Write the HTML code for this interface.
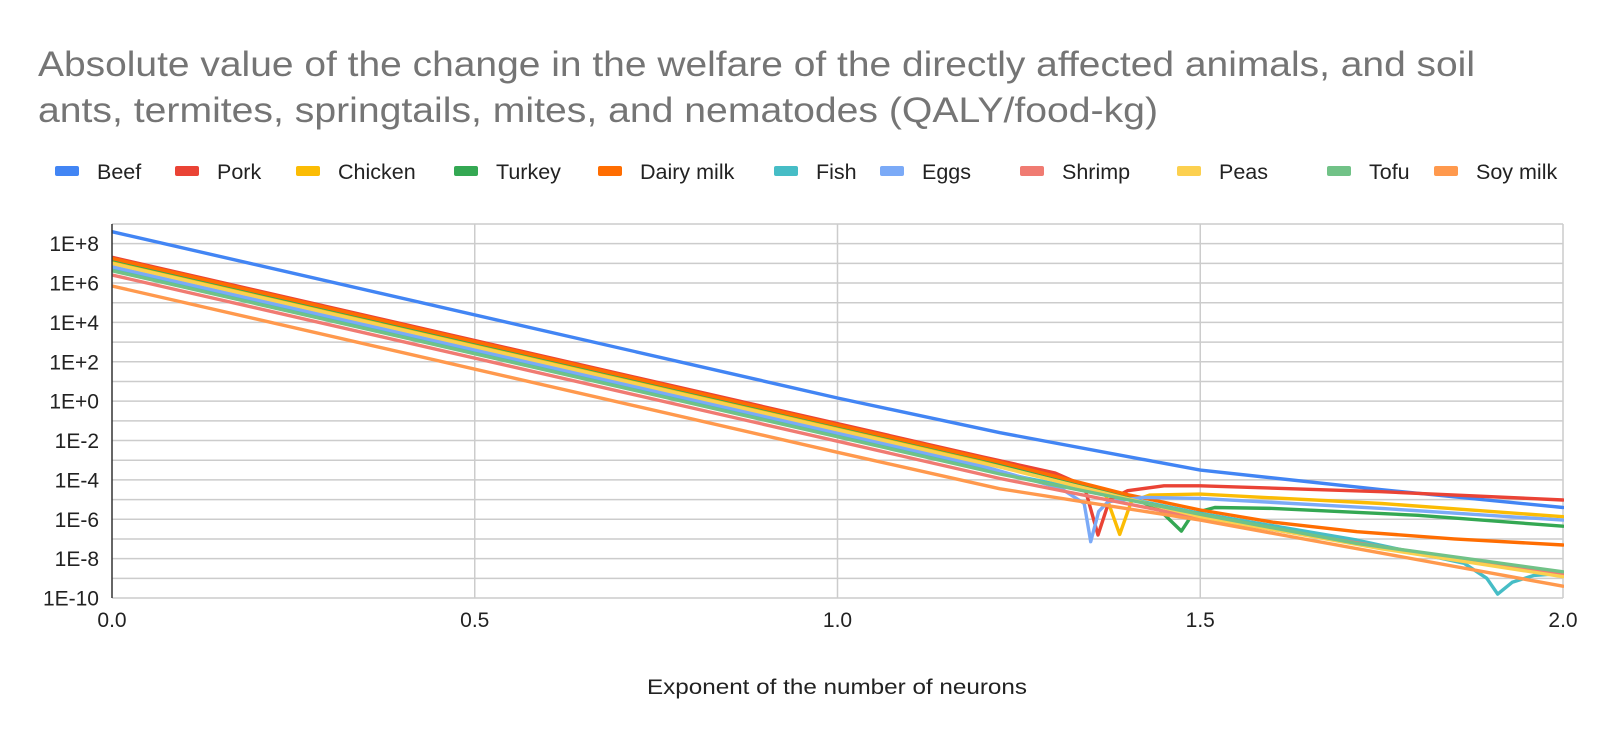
<!DOCTYPE html>
<html><head><meta charset="utf-8"><style>
html,body{margin:0;padding:0;background:#fff;}
svg{display:block;font-family:"Liberation Sans",Arial,sans-serif;}
</style></head><body>
<svg id="chart" width="1600" height="739" viewBox="0 0 1600 739">
<rect x="0" y="0" width="1600" height="739" fill="#fff"/>
<text x="38" y="76" font-size="35" fill="#757575" textLength="1437" lengthAdjust="spacingAndGlyphs">Absolute value of the change in the welfare of the directly affected animals, and soil</text>
<text x="38" y="122" font-size="35" fill="#757575" textLength="1120" lengthAdjust="spacingAndGlyphs">ants, termites, springtails, mites, and nematodes (QALY/food-kg)</text>
<g id="legend"></g>
<g id="grid"></g>
<g id="ylabels"></g>
<g id="xlabels"></g>
<defs><clipPath id="clip"><rect x="112" y="220" width="1452" height="380"/></clipPath></defs>
<g id="series" clip-path="url(#clip)"></g>
<line x1="112" y1="224" x2="112" y2="598" stroke="#333" stroke-width="1.5"/>
<text x="837" y="694" font-size="21" fill="#222" text-anchor="middle" textLength="380" lengthAdjust="spacingAndGlyphs">Exponent of the number of neurons</text>
</svg>
<script>
const seriesNames = ["Beef","Pork","Chicken","Turkey","Dairy milk","Fish","Eggs","Shrimp","Peas","Tofu","Soy milk"];
const seriesColors = ["#4285f4","#ea4335","#fbbc04","#34a853","#ff6d01","#46bdc6","#7baaf7","#f07b72","#fcd04f","#71c287","#ff994d"];
const legendX = [55,175,296,454,598,774,880,1020,1177,1327,1434];
// x values (exponent) and log10 of y values per series
const beefX = [0,1.0,1.224,1.5,1.75,2.0];
const beefLog = [8.61,0.16,-1.6,-3.5,-4.5,-5.4];
const porkX = [0,1.2,1.3,1.34,1.359,1.375,1.4,1.45,1.5,1.75,2.0];
const porkLog = [7.31,-2.83,-3.65,-4.3,-6.8,-5.0,-4.55,-4.3,-4.3,-4.6,-5.02];
const chickenX = [0,1.2,1.33,1.37,1.389,1.405,1.43,1.5,1.75,2.0];
const chickenLog = [7.08,-3.06,-4.2,-4.8,-6.77,-5.1,-4.77,-4.72,-5.2,-5.87];
const turkeyX = [0,1.2,1.4,1.444,1.474,1.49,1.52,1.6,1.8,2.0];
const turkeyLog = [7.2,-2.94,-4.8,-5.53,-6.6,-5.7,-5.4,-5.45,-5.8,-6.35];
const dairyX = [0,1.224,1.4,1.5,1.6,1.716,1.85,2.0];
const dairyLog = [7.25,-3.1,-4.75,-5.53,-6.15,-6.63,-7.0,-7.31];
const fishX = [0,1.224,1.5,1.716,1.864,1.895,1.91,1.93,1.96,2.0];
const fishLog = [6.7,-3.64,-5.7,-7.06,-8.24,-9.0,-9.8,-9.2,-8.85,-8.75];
const eggsX = [0,1.2,1.308,1.34,1.349,1.36,1.373,1.422,1.5,1.75,2.0];
const eggsLog = [6.83,-3.3,-4.43,-5.2,-7.14,-5.6,-5.11,-4.89,-4.94,-5.45,-6.04];
const shrimpX = [0,1.224,1.5,1.75,2.0];
const shrimpLog = [6.41,-3.93,-5.95,-7.4,-8.8];
const peasX = [0,1.224,1.5,1.75,2.0];
const peasLog = [7.0,-3.35,-5.87,-7.5,-8.92];
const tofuX = [0,1.224,1.5,1.716,2.0];
const tofuLog = [6.63,-3.7,-5.75,-7.23,-8.67];
const soyX = [0,1.0,1.224,1.5,2.0];
const soyLog = [5.85,-2.6,-4.45,-6.04,-9.4];
const allX = [beefX,porkX,chickenX,turkeyX,dairyX,fishX,eggsX,shrimpX,peasX,tofuX,soyX];
const allLog = [beefLog,porkLog,chickenLog,turkeyLog,dairyLog,fishLog,eggsLog,shrimpLog,peasLog,tofuLog,soyLog];
const yTickLabels = ["1E+8","1E+6","1E+4","1E+2","1E+0","1E-2","1E-4","1E-6","1E-8","1E-10"];
const yTickExp = [8,6,4,2,0,-2,-4,-6,-8,-10];
const xTicks = [0,0.5,1.0,1.5,2.0];
const xTickLabels = ["0.0","0.5","1.0","1.5","2.0"];

const NS="http://www.w3.org/2000/svg";
const X0=112, X1=1563, YTOP=224, YBOT=598, EMAX=9, EMIN=-10;
function sx(v){return X0+(v-0)/(2-0)*(X1-X0);}
function sy(l){return YTOP+(EMAX-l)/(EMAX-EMIN)*(YBOT-YTOP);}
function mk(tag,attrs,parent){const e=document.createElementNS(NS,tag);for(const k in attrs)e.setAttribute(k,attrs[k]);parent.appendChild(e);return e;}

const grid=document.getElementById('grid');
for(let e=EMAX;e>=EMIN;e--){
  const l=mk('line',{x1:X0,x2:X1,y1:sy(e),y2:sy(e),stroke:'#cccccc','stroke-width':1.5},grid);
  
  
}
xTicks.forEach((t,i)=>{
  if(i>0){const l=mk('line',{x1:sx(t),x2:sx(t),y1:YTOP,y2:YBOT,stroke:'#cccccc','stroke-width':1.5},grid);
  
  }
  const tx=mk('text',{x:sx(t),y:627,'font-size':21,fill:'#222','text-anchor':'middle'},document.getElementById('xlabels'));
  tx.textContent=xTickLabels[i];
  
  
});
yTickExp.forEach((e,i)=>{
  const tx=mk('text',{x:99,y:sy(e)+7.5,'font-size':21,fill:'#222','text-anchor':'end'},document.getElementById('ylabels'));
  tx.textContent=yTickLabels[i];
  
  
});
const sg=document.getElementById('series');
allX.forEach((xs,i)=>{
  const pts=xs.map((x,j)=>sx(x).toFixed(1)+','+sy(allLog[i][j]).toFixed(1)).join(' ');
  const p=mk('polyline',{points:pts,fill:'none',stroke:seriesColors[i],'stroke-width':3.4,'stroke-linejoin':'round','stroke-linecap':'round'},sg);
  
  
});
const lg=document.getElementById('legend');
seriesNames.forEach((n,i)=>{
  const g=mk('g',{},lg);
  
  
  mk('rect',{x:legendX[i],y:166,width:24,height:10,rx:2,fill:seriesColors[i]},g);
  const t=mk('text',{x:legendX[i]+42,y:179,'font-size':21.5,fill:'#222'},g);
  t.textContent=n;
});
</script>
</body></html>
